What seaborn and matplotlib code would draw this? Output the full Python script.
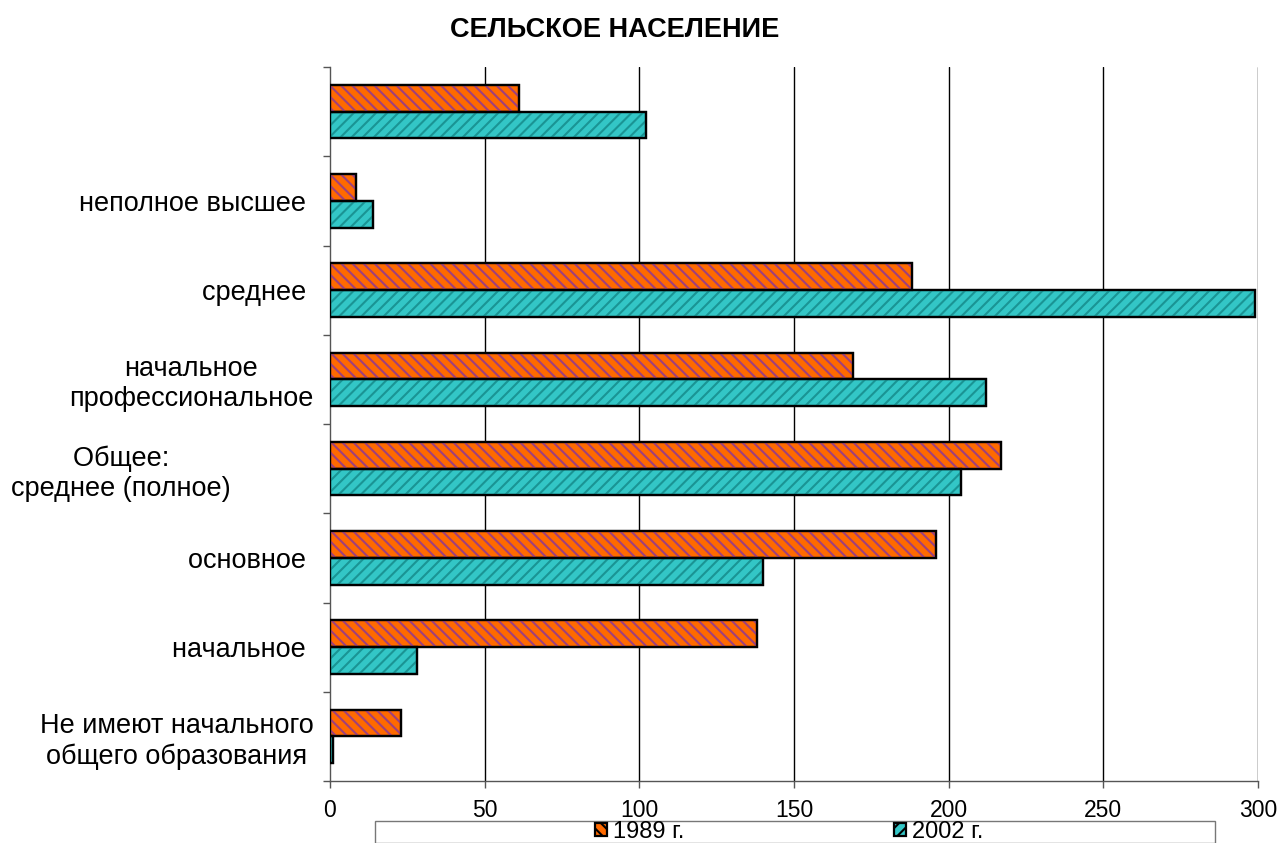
import matplotlib
matplotlib.use("Agg")
import matplotlib.pyplot as plt
import matplotlib.patches as mpatches
from matplotlib.colors import to_hex
import seaborn as sns
import pandas as pd

categories = [" ", "неполное высшее ", "среднее ", "начальное\nпрофессиональное",
              "Общее:" + " " * 11 + "\nсреднее (полное)" + " " * 11, "основное ", "начальное ",
              "Не имеют начального\nобщего образования"]
years = ["1989 г.", "2002 г."]
values_1989 = [61, 8.5, 188, 169, 217, 196, 138, 23]
values_2002 = [102, 14, 299, 212, 204, 140, 28, 1]
x_ticks = [0, 50, 100, 150, 200, 250, 300]
title = "СЕЛЬСКОЕ НАСЕЛЕНИЕ"

df = pd.DataFrame({
    "cat": categories * 2,
    "year": [years[0]] * len(categories) + [years[1]] * len(categories),
    "value": values_1989 + values_2002,
})

sns.set_theme(style="white")
plt.rcParams["font.family"] = ["Liberation Sans", "DejaVu Sans"]
plt.rcParams["hatch.linewidth"] = 1.5
plt.rcParams["text.color"] = "black"
plt.rcParams["xtick.color"] = "black"
plt.rcParams["ytick.color"] = "black"

colors = ["#FF6A00", "#33C6C6"]
stripe = ["#A0407C", "#1A9494"]
hatches = ["\\\\\\", "///"]

fig = plt.figure(figsize=(12.8, 8.43), dpi=100)
ax = fig.add_axes([330 / 1280, 1 - 781 / 843, (1258 - 330) / 1280, (781 - 67) / 843])

sns.barplot(data=df, y="cat", x="value", hue="year", orient="h",
            order=categories, hue_order=years, palette=colors,
            width=0.6, edgecolor="black", linewidth=1.6, saturation=1,
            legend=False, ax=ax, zorder=3)

for p in list(ax.patches):
    fc = to_hex(p.get_facecolor()).lower()
    idx = 0 if fc == to_hex(colors[0]).lower() else 1
    r = mpatches.Rectangle((p.get_x(), p.get_y()), p.get_width(), p.get_height(),
                           facecolor="none", edgecolor=stripe[idx], hatch=hatches[idx],
                           linewidth=0, zorder=3.5)
    ax.add_patch(r)
    r2 = mpatches.Rectangle((p.get_x(), p.get_y()), p.get_width(), p.get_height(),
                            facecolor="none", edgecolor="black", linewidth=1.6, zorder=4)
    ax.add_patch(r2)

ax.set_xlim(0, 300)
ax.set_ylim(len(categories) - 0.5, -0.5)
ax.set_xticks(x_ticks)
ax.set_xticklabels([str(t) for t in x_ticks], fontsize=16.5)
ax.set_yticks(range(len(categories)))
ax.set_yticklabels(categories, fontsize=19.5, multialignment="center")
ax.set_yticks([i - 0.5 for i in range(len(categories) + 1)], minor=True)
ax.tick_params(axis="y", which="major", length=0, pad=12)
ax.tick_params(axis="y", which="minor", length=5, width=1, color="#555555", direction="out", left=True)
ax.tick_params(axis="x", which="major", length=5, width=1, color="#555555", direction="out", bottom=True, pad=8)
ax.set_xlabel("")
ax.set_ylabel("")

for x in x_ticks[1:]:
    ax.axvline(x, color="black", linewidth=1, zorder=1)

for s in ["top", "right"]:
    ax.spines[s].set_visible(False)
for s in ["left", "bottom"]:
    ax.spines[s].set_color("#555555")
    ax.spines[s].set_linewidth(1)

fig.text(615 / 1280, 1 - 30 / 843, title, ha="center", va="center",
         fontsize=19.5, fontweight="bold")

# legend frame
frame = mpatches.Rectangle((375 / 1280, 0.0), (1215 - 375) / 1280, (843 - 821) / 843,
                           transform=fig.transFigure, facecolor="white",
                           edgecolor="#777777", linewidth=1)
fig.patches.append(frame)

handles = [mpatches.Patch(facecolor=colors[i], edgecolor="black", hatch=hatches[i], linewidth=1.6)
           for i in range(2)]
leg = fig.legend(handles, years, loc="center left", bbox_to_anchor=(595 / 1280, 1 - 832 / 843),
                 ncol=2, frameon=False, fontsize=17, handlelength=0.5, handleheight=0.5,
                 handletextpad=0.25, columnspacing=8.9, borderpad=0, borderaxespad=0)

fig.savefig("out.png", dpi=100)
